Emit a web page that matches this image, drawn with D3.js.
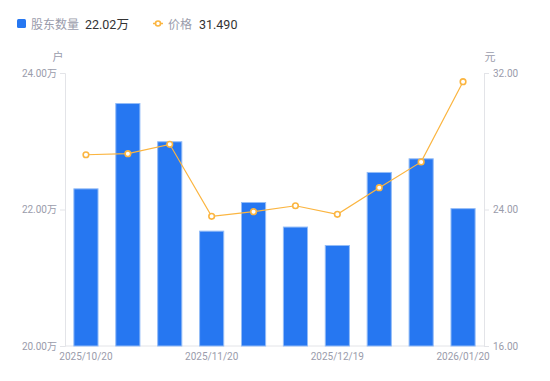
<!DOCTYPE html>
<html><head><meta charset="utf-8">
<script src="https://cdn.jsdelivr.net/npm/d3@7/dist/d3.min.js"></script>
<style>body{margin:0;background:#fff;}svg{display:block;font-family:"Noto Sans CJK SC","Noto Sans",sans-serif;}</style>
</head><body><svg id="c" width="550" height="381"></svg>
<script>
const dates = ["2025/10/20","2025/10/31","2025/11/10","2025/11/20","2025/11/28","2025/12/10","2025/12/19","2025/12/31","2026/01/09","2026/01/20"];
const holders = [22.31,23.56,23.00,21.69,22.11,21.75,21.48,22.55,22.75,22.02];
const prices = [27.21,27.27,27.82,23.60,23.87,24.22,23.72,25.28,26.79,31.49];
const leftTicks = [20,22,24];
const rightTicks = [16,24,32];
const shownDates = ["2025/10/20","2025/11/20","2025/12/19","2026/01/20"];

const svg = d3.select("#c");
const L = 65, R = 484, T = 73, B = 346;
const x = d3.scaleBand().domain(dates).range([L, R]).paddingInner(0.4).paddingOuter(0.2);
const yL = d3.scaleLinear().domain([20,24]).range([B, T]);
const yR = d3.scaleLinear().domain([16,32]).range([B, T]);
const grey = "#9a9cab", axisC = "#e3e4e8";

// axes
const gL = svg.append("g").attr("transform",`translate(${L},0)`)
  .call(d3.axisLeft(yL).tickValues(leftTicks).tickSize(5).tickPadding(3).tickFormat(d=>d3.format(".2f")(d)+"万"));
const gR = svg.append("g").attr("transform",`translate(${R},0)`)
  .call(d3.axisRight(yR).tickValues(rightTicks).tickSize(5).tickPadding(4).tickFormat(d3.format(".2f")));
const gB = svg.append("g").attr("transform",`translate(0,${B})`)
  .call(d3.axisBottom(x).tickValues(shownDates).tickSize(0).tickPadding(7));
[gL,gR,gB].forEach(g=>{
  g.select(".domain").attr("stroke",axisC);
  g.selectAll(".tick line").attr("stroke",axisC);
  g.selectAll("text").attr("fill",grey).style("font-size","10px").style("font-family","Roboto,'Noto Sans CJK SC',sans-serif");
});
gB.select(".domain").attr("d",`M${L},0H${R}`);

// unit labels
svg.append("text").attr("x",58).attr("y",61).attr("text-anchor","middle").attr("fill",grey).style("font-size","11px").text("户");
svg.append("text").attr("x",490).attr("y",61).attr("text-anchor","middle").attr("fill",grey).style("font-size","11px").text("元");

// bars
svg.append("g").selectAll("rect").data(dates).join("rect")
  .attr("x",d=>x(d)+0.5).attr("width",x.bandwidth()-1)
  .attr("y",(d,i)=>yL(holders[i])+0.5).attr("height",(d,i)=>B-yL(holders[i])-0.5)
  .attr("fill","#2677f1").attr("stroke","#93bcf7").attr("stroke-width",1);

// line
const cx = d=>x(d)+x.bandwidth()/2;
svg.append("path").datum(dates)
  .attr("d",d3.line().x(cx).y((d,i)=>yR(prices[i])))
  .attr("fill","none").attr("stroke","#fbb540").attr("stroke-width",1.2);
svg.append("g").selectAll("circle").data(dates).join("circle")
  .attr("cx",cx).attr("cy",(d,i)=>yR(prices[i])).attr("r",2.8)
  .attr("fill","#fff").attr("stroke","#fbb540").attr("stroke-width",1.6);

// legend
const lg = svg.append("g");
lg.append("rect").attr("x",17).attr("y",19).attr("width",9).attr("height",9).attr("rx",1.5).attr("fill","#2677f1");
lg.append("text").attr("x",31).attr("y",28.5).attr("fill",grey).style("font-size","12px").text("股东数量");
lg.append("text").attr("x",85).attr("y",28.5).attr("fill","#333").style("font-size","12.5px").style("font-family","Roboto,'Noto Sans CJK SC',sans-serif").text(d3.format(".2f")(holders[holders.length-1])+"万");
lg.append("line").attr("x1",153).attr("x2",163).attr("y1",23.5).attr("y2",23.5).attr("stroke","#fbb540").attr("stroke-width",1.5);
lg.append("circle").attr("cx",158).attr("cy",23.5).attr("r",2.5).attr("fill","#fff").attr("stroke","#fbb540").attr("stroke-width",1.6);
lg.append("text").attr("x",168).attr("y",28.5).attr("fill",grey).style("font-size","12px").text("价格");
lg.append("text").attr("x",199).attr("y",28.5).attr("fill","#333").style("font-size","12.5px").style("font-family","Roboto,'Noto Sans CJK SC',sans-serif").text(d3.format(".3f")(prices[prices.length-1]));
</script></body></html>
